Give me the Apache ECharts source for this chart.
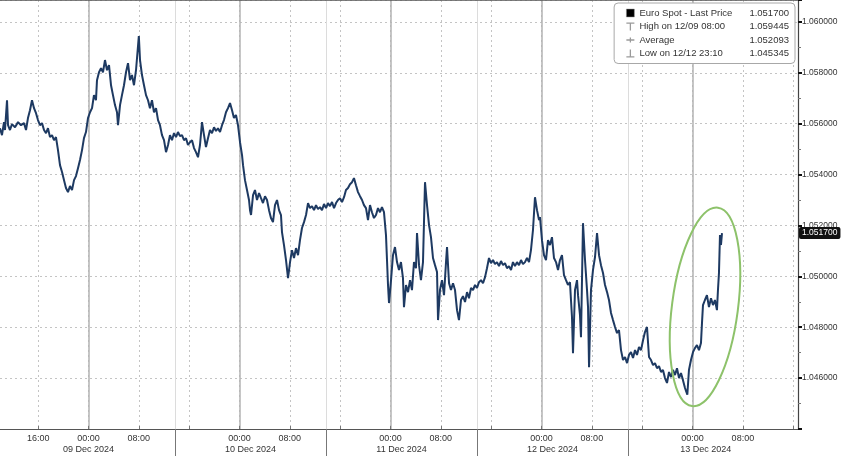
<!DOCTYPE html>
<html><head><meta charset="utf-8">
<script src="https://cdn.jsdelivr.net/npm/echarts@6/dist/echarts.min.js"></script>
<style>html,body{margin:0;padding:0;background:#fff}#c{width:848px;height:457px}</style>
</head><body><div id="c"></div>
<script>
// Hours are measured from 09 Dec 2024 00:00; prices are EURUSD spot.
const seriesName = 'Euro Spot - Last Price';
const lastPrice = 1.0517;
const statNames = ['High on 12/09 08:00', 'Average', 'Low on 12/12 23:10'];
const statValues = ['1.059445', '1.052093', '1.045345'];

const spotDec08 = [[-14.07,1.05582],[-13.75,1.05555],[-13.43,1.05606],[-13.27,1.05575],[-12.95,1.05692],[-12.79,1.05594],[-12.48,1.05575],[-12.16,1.05598],[-11.68,1.05586],[-11.20,1.05606],[-10.73,1.05594],[-10.25,1.05602],[-9.93,1.05575],[-9.62,1.05622],[-9.30,1.05653],[-8.98,1.05692],[-8.66,1.05661],[-8.34,1.05641],[-8.03,1.05614],[-7.71,1.05594],[-7.39,1.05602],[-7.07,1.05575],[-6.75,1.05563],[-6.44,1.05582],[-6.12,1.05547],[-5.80,1.05555],[-5.48,1.05535],[-5.17,1.05547],[-4.85,1.05496],[-4.53,1.05437],[-4.21,1.05410],[-3.89,1.05378],[-3.58,1.05347],[-3.26,1.05331],[-2.94,1.05355],[-2.62,1.05339],[-2.30,1.05378],[-1.99,1.05394],[-1.67,1.05425],[-1.35,1.05457],[-1.03,1.05496],[-0.72,1.05543],[-0.40,1.05567],[-0.08,1.05622]];
const spotDec09 = [[0.24,1.05645],[0.56,1.05661],[0.87,1.05712],[1.19,1.05692],[1.35,1.05771],[1.67,1.05802],[1.99,1.05818],[2.30,1.05802],[2.62,1.05850],[2.94,1.05810],[3.26,1.05830],[3.58,1.05751],[3.89,1.05712],[4.21,1.05673],[4.53,1.05645],[4.69,1.05594],[5.01,1.05673],[5.32,1.05712],[5.64,1.05751],[5.96,1.05802],[6.28,1.05838],[6.60,1.05771],[6.91,1.05791],[7.23,1.05751],[7.55,1.05810],[8.00,1.059445],[8.19,1.05850],[8.50,1.05791],[8.82,1.05751],[9.14,1.05712],[9.46,1.05692],[9.77,1.05661],[10.09,1.05692],[10.41,1.05645],[10.73,1.05661],[11.05,1.05614],[11.36,1.05594],[11.68,1.05555],[12.00,1.05535],[12.32,1.05488],[12.64,1.05516],[12.95,1.05555],[13.27,1.05535],[13.59,1.05563],[13.91,1.05547],[14.22,1.05567],[14.54,1.05551],[14.86,1.05555],[15.18,1.05535],[15.50,1.05543],[15.81,1.05516],[16.13,1.05527],[16.45,1.05535],[16.77,1.05504],[17.08,1.05488],[17.40,1.05468],[17.72,1.05516],[18.04,1.05606],[18.36,1.05555],[18.67,1.05508],[18.99,1.05543],[19.31,1.05575],[19.63,1.05563],[19.95,1.05586],[20.26,1.05571],[20.58,1.05582],[20.90,1.05567],[21.22,1.05594],[21.53,1.05614],[21.85,1.05645],[22.17,1.05661],[22.49,1.05681],[22.81,1.05653],[23.12,1.05622],[23.44,1.05634],[23.76,1.05594]];
const spotDec10 = [[24.08,1.05527],[24.40,1.05476],[24.56,1.05437],[24.87,1.05378],[25.19,1.05339],[25.51,1.05300],[25.67,1.05260],[25.83,1.05241],[26.15,1.05319],[26.46,1.05339],[26.78,1.05300],[27.10,1.05327],[27.42,1.05307],[27.73,1.05288],[28.05,1.05315],[28.37,1.05300],[28.69,1.05260],[29.00,1.05229],[29.32,1.05213],[29.64,1.05280],[29.96,1.05300],[30.28,1.05260],[30.59,1.05241],[30.75,1.05174],[31.07,1.05123],[31.39,1.05064],[31.71,1.04993],[32.03,1.05056],[32.34,1.05103],[32.66,1.05072],[32.98,1.05111],[33.30,1.05083],[33.61,1.05142],[33.93,1.05190],[34.25,1.05213],[34.57,1.05241],[34.89,1.05288],[35.20,1.05268],[35.52,1.05276],[35.84,1.05260],[36.16,1.05280],[36.47,1.05264],[36.79,1.05272],[37.11,1.05260],[37.43,1.05284],[37.75,1.05268],[38.06,1.05288],[38.38,1.05276],[38.70,1.05292],[39.02,1.05268],[39.34,1.05288],[39.65,1.05300],[39.97,1.05307],[40.29,1.05292],[40.61,1.05311],[40.92,1.05339],[41.24,1.05347],[41.56,1.05362],[41.88,1.05370],[42.19,1.05386],[42.51,1.05358],[42.83,1.05331],[43.15,1.05315],[43.47,1.05300],[43.78,1.05280],[44.10,1.05268],[44.42,1.05221],[44.74,1.05280],[45.05,1.05252],[45.37,1.05229],[45.69,1.05241],[46.01,1.05268],[46.33,1.05252],[46.64,1.05272],[46.96,1.05252],[47.28,1.05162],[47.44,1.05064],[47.60,1.04966],[47.76,1.04895]];
const spotDec11 = [[48.08,1.04985],[48.39,1.05083],[48.71,1.05115],[49.03,1.05056],[49.35,1.05025],[49.66,1.05056],[49.98,1.04993],[50.14,1.04879],[50.46,1.04966],[50.78,1.04938],[51.10,1.04985],[51.41,1.04946],[51.73,1.05056],[52.05,1.05032],[52.21,1.05170],[52.53,1.05044],[52.84,1.04985],[53.16,1.05056],[53.48,1.05370],[53.80,1.05280],[54.12,1.05201],[54.43,1.05154],[54.75,1.05072],[55.07,1.05044],[55.39,1.05017],[55.55,1.04828],[55.86,1.04946],[56.18,1.04985],[56.50,1.04926],[56.82,1.05056],[56.98,1.05115],[57.30,1.04973],[57.61,1.04946],[57.93,1.04973],[58.25,1.04946],[58.57,1.04867],[58.88,1.04828],[59.20,1.04907],[59.52,1.04922],[59.84,1.04899],[60.16,1.04938],[60.47,1.04914],[60.79,1.04954],[61.11,1.04946],[61.43,1.04966],[61.74,1.04954],[62.06,1.04977],[62.38,1.04985],[62.70,1.04973],[63.02,1.04997],[63.33,1.05032],[63.65,1.05072],[63.97,1.05052],[64.29,1.05064],[64.60,1.05048],[64.92,1.05056],[65.24,1.05040],[65.56,1.05060],[65.88,1.05044],[66.19,1.05052],[66.51,1.05032],[66.83,1.05040],[67.15,1.05025],[67.46,1.05056],[67.78,1.05040],[68.10,1.05056],[68.42,1.05044],[68.74,1.05064],[69.05,1.05048],[69.37,1.05056],[69.69,1.05072],[70.01,1.05056],[70.32,1.05103],[70.64,1.05182],[70.96,1.05311],[71.28,1.05260],[71.60,1.05221],[71.76,1.05233]];
const spotDec12 = [[72.07,1.05142],[72.39,1.05083],[72.71,1.05064],[73.03,1.05142],[73.34,1.05123],[73.66,1.05154],[73.98,1.05072],[74.30,1.05056],[74.62,1.05025],[74.93,1.05064],[75.25,1.05083],[75.57,1.05005],[75.89,1.04985],[76.20,1.04966],[76.52,1.04977],[76.68,1.04907],[76.84,1.04840],[77.00,1.04698],[77.32,1.04946],[77.64,1.04985],[77.80,1.04926],[78.11,1.04848],[78.27,1.04761],[78.59,1.05209],[78.91,1.05064],[79.23,1.04946],[79.39,1.04879],[79.55,1.04643],[79.86,1.04946],[80.18,1.05025],[80.50,1.05076],[80.82,1.05170],[81.14,1.05083],[81.45,1.05044],[81.77,1.05013],[82.09,1.04966],[82.41,1.04938],[82.72,1.04907],[83.04,1.04856],[83.36,1.04828],[83.68,1.04801],[84.00,1.04777],[84.31,1.04789],[84.63,1.04710],[84.95,1.04671],[85.27,1.04683],[85.59,1.04659],[85.90,1.04691],[86.22,1.04702],[86.54,1.04679],[86.86,1.04710],[87.17,1.04691],[87.49,1.04722],[87.81,1.04710],[88.13,1.04749],[88.44,1.04781],[88.76,1.04801],[89.08,1.04683],[89.40,1.04671],[89.72,1.04651],[90.03,1.04659],[90.35,1.04639],[90.67,1.04647],[90.99,1.04624],[91.30,1.04632],[91.62,1.04600],[91.94,1.04581],[92.26,1.04624],[92.58,1.04604],[92.89,1.04632],[93.21,1.04612],[93.53,1.04639],[93.85,1.04600],[94.16,1.04620],[94.48,1.04592],[94.80,1.04561],[95.17,1.045345],[95.43,1.04632],[95.75,1.04671]];
const spotDec13 = [[96.07,1.04702],[96.38,1.04718],[96.70,1.04730],[97.02,1.04710],[97.34,1.04738],[97.50,1.04816],[97.66,1.04887],[97.97,1.04907],[98.29,1.04926],[98.61,1.04879],[98.93,1.04914],[99.25,1.04887],[99.56,1.04907],[99.88,1.04867],[100.04,1.04946],[100.20,1.05013],[100.36,1.05162],[100.52,1.05123],[100.68,1.05170]];

// Axis ticks / labels (hours from 09 Dec 2024 00:00)
const gridLineHours = [-8,0,8,16,24,32,40,48,56,64,72,80,88,96,104,112];
const timeLabelHours = [-8,0,8,24,32,48,56,72,80,96,104];
const midnightHours = [0,24,48,72,96];
const sessionBreakHours = [13.75,37.75,61.75,85.75];
const dayLabels = ['09 Dec 2024','10 Dec 2024','11 Dec 2024','12 Dec 2024','13 Dec 2024'];
const dayLabelHours = [0,25.75,49.75,73.75,98.1];
const yMin = 1.044, yMax = 1.06086, yStep = 0.002;
const xMin = -14.065, xMax = 112.76;

// annotation (ellipse around the final rally)
const ellipseCenter = [97.98, 1.04880];

const FONT = '"Liberation Sans", Arial, sans-serif';
const spotData = [].concat(spotDec08, spotDec09, spotDec10, spotDec11, spotDec12, spotDec13);

const chart = echarts.init(document.getElementById('c'), null, {renderer: 'canvas'});
const fmtTime = v => { const h = ((Math.round(v) % 24) + 24) % 24; return (h < 10 ? '0' : '') + h + ':00'; };
const fmtDay = v => { const i = dayLabelHours.findIndex(d => Math.abs(d - v) < 0.01); return i >= 0 ? dayLabels[i] : ''; };
const legendValues = {};
legendValues[seriesName] = lastPrice.toFixed(6);
statNames.forEach((n, i) => legendValues[n] = statValues[i]);

const xBase = {type: 'value', min: xMin, max: xMax, gridIndex: 0};
const hiddenLabel = {show: false};

chart.setOption({
  animation: false,
  backgroundColor: '#fff',
  grid: {left: 0, right: 50, top: 0, bottom: 28, containLabel: false},
  legend: {
    orient: 'vertical', right: 53, top: 3, selectedMode: false,
    backgroundColor: '#fff', borderColor: '#a8a8a8', borderWidth: 1, borderRadius: 4,
    padding: [5, 6, 5, 12], itemGap: 3.5, itemWidth: 8, itemHeight: 8,
    textStyle: {fontFamily: FONT, fontSize: 9.5, color: '#333',
      rich: {n: {width: 110, fontFamily: FONT, fontSize: 9.5, color: '#333'},
             v: {fontFamily: FONT, fontSize: 9.5, color: '#333'}}},
    formatter: name => '{n|' + name + '}{v|' + legendValues[name] + '}',
    data: [
      {name: seriesName, icon: 'rect', itemStyle: {color: '#000', borderColor: '#999', borderWidth: 0.5}},
      {name: statNames[0], icon: 'path://M0,0H10V1.6H0Z M4.2,0H5.8V10H4.2Z', itemStyle: {color: '#9a9a9a'}},
      {name: statNames[1], icon: 'path://M0,4.2H10V5.8H0Z M4.2,2H5.8V8H4.2Z', itemStyle: {color: '#9a9a9a'}},
      {name: statNames[2], icon: 'path://M4.2,0H5.8V10H4.2Z M0,8.4H10V10H0Z', itemStyle: {color: '#9a9a9a'}}
    ]
  },
  xAxis: [
    Object.assign({}, xBase, {
      position: 'bottom',
      axisLine: {show: true, onZero: false, lineStyle: {color: '#555', width: 1}},
      axisTick: {show: true, inside: true, length: 3, customValues: gridLineHours, lineStyle: {color: '#777'}},
      axisLabel: {customValues: timeLabelHours, formatter: fmtTime, margin: 5, fontSize: 9, color: '#333', fontFamily: FONT},
      splitLine: {show: true, lineStyle: {color: '#c4c4c4', type: [2, 3], width: 1}}
    }),
    Object.assign({}, xBase, {
      position: 'bottom',
      axisLine: {show: false, onZero: false},
      axisTick: {show: false, customValues: midnightHours},
      axisLabel: hiddenLabel,
      splitLine: {show: true, lineStyle: {color: '#b3b3b3', width: 1.5}}
    }),
    Object.assign({}, xBase, {
      position: 'bottom',
      axisLine: {show: false, onZero: false},
      axisTick: {show: true, customValues: sessionBreakHours, length: 27, lineStyle: {color: '#777', width: 1}},
      axisLabel: {customValues: dayLabelHours, formatter: fmtDay, margin: 16, fontSize: 9, color: '#333', fontFamily: FONT},
      splitLine: {show: true, lineStyle: {color: '#dcdcdc', width: 1}}
    }),
    Object.assign({}, xBase, {
      position: 'top',
      axisLine: {show: true, onZero: false, lineStyle: {color: '#555', width: 1.5}},
      axisTick: {show: false},
      axisLabel: hiddenLabel,
      splitLine: {show: false}
    })
  ],
  yAxis: [
    {
      type: 'value', position: 'right', min: yMin, max: yMax, interval: yStep,
      axisLine: {show: true, onZero: false, lineStyle: {color: '#444', width: 1.2}},
      axisTick: {show: true, length: 4, lineStyle: {color: '#111', width: 2}},
      minorTick: {show: true, splitNumber: 2, length: 3, lineStyle: {color: '#777'}},
      axisLabel: {showMinLabel: false, showMaxLabel: false, formatter: v => v.toFixed(6),
        fontSize: 8.5, color: '#333', margin: 4, fontFamily: FONT},
      splitLine: {show: true, lineStyle: {color: '#c4c4c4', type: [2, 3], width: 1}}
    },
    {
      type: 'value', position: 'right', min: yMin, max: yMax,
      axisLine: {show: false, onZero: false}, axisTick: {show: false}, splitLine: {show: false},
      axisLabel: {customValues: [lastPrice], formatter: v => v.toFixed(6), backgroundColor: '#111',
        color: '#fff', padding: [2, 3, 1, 3], borderRadius: 2, margin: 1, fontSize: 8.5, fontFamily: FONT}
    }
  ],
  series: [
    {name: seriesName, type: 'line', xAxisIndex: 0, yAxisIndex: 0, data: spotData,
     showSymbol: false, symbol: 'none', z: 5,
     lineStyle: {color: '#1e3a62', width: 2}, itemStyle: {color: '#000'}},
    {name: statNames[0], type: 'line', data: [], itemStyle: {color: '#9a9a9a'}},
    {name: statNames[1], type: 'line', data: [], itemStyle: {color: '#9a9a9a'}},
    {name: statNames[2], type: 'line', data: [], itemStyle: {color: '#9a9a9a'}}
  ]
});

const c = chart.convertToPixel({xAxisIndex: 0, yAxisIndex: 0}, ellipseCenter);
chart.setOption({
  graphic: [{
    type: 'ellipse', x: c[0], y: c[1], rotation: -0.13, z: 10,
    shape: {cx: 0, cy: 0, rx: 33, ry: 100},
    style: {fill: 'none', stroke: '#8dc26a', lineWidth: 2}
  }]
});
</script></body></html>
